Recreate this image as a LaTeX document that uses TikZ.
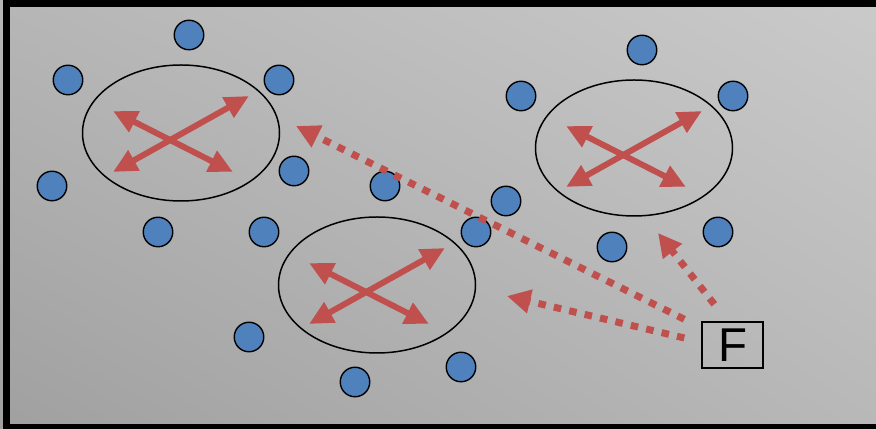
\documentclass[tikz,border=0pt]{standalone}
\usepackage{fontspec}
\setsansfont{Liberation Sans}
\usetikzlibrary{arrows.meta,calc,shadings}

\definecolor{bolla}{HTML}{4F81BD}
\definecolor{freccia}{HTML}{C0504D}
\definecolor{sfondoUL}{HTML}{B6B6B6}
\definecolor{sfondoUR}{HTML}{CACACA}
\definecolor{sfondoLL}{HTML}{A0A0A0}
\definecolor{sfondoLR}{HTML}{B8B8B8}

\begin{document}
\begin{tikzpicture}[
    nodo/.style={circle,draw=black,line width=0.8pt,fill=bolla,minimum size=0.59cm,inner sep=0pt},
    gruppo/.style={draw=black,line width=0.85pt},
    scambio/.style={draw=freccia,line width=3.4pt,{Triangle[length=0.48cm,width=0.44cm]}-{Triangle[length=0.48cm,width=0.44cm]}},
    attacco/.style={draw=freccia,line width=4pt,dash pattern=on 4.3pt off 4.7pt,-{Triangle[length=0.47cm,width=0.46cm]}},
    fonte/.style={draw=black,line width=0.8pt,minimum width=1.22cm,minimum height=0.92cm,inner sep=0pt,font=\sffamily\fontsize{27}{30}\selectfont}]

        %%%%%%% Sfondo %%%%%%%%
        \useasboundingbox (0,0) rectangle (17.52,8.58);
        \shade[upper left=sfondoUL,upper right=sfondoUR,lower left=sfondoLL,lower right=sfondoLR]
            (0,0) rectangle (17.52,8.58);
        \draw[line width=0.14cm] (0.13,0.03) rectangle (17.7,8.50);

        %%%%%%% Gruppi %%%%%%%%
        \coordinate (eA) at (3.62,5.92);
        \coordinate (eB) at (7.54,2.88);
        \coordinate (eC) at (12.68,5.62);

        \foreach \e in {eA,eB,eC}
            \draw[gruppo] (\e) ellipse [x radius=1.97,y radius=1.36];

        \foreach \e in {eA,eB,eC} {
            \draw[scambio] ([shift={(-1.36,0.44)}]\e) -- ([shift={(1.04,-0.78)}]\e);
            \draw[scambio] ([shift={(-1.36,-0.78)}]\e) -- ([shift={(1.36,0.74)}]\e);
        }

        %%%%%%% Nodi %%%%%%%%
        \foreach \p [count=\i] in {(3.78,7.88),(1.36,6.98),(5.58,6.98),(1.04,4.86),(5.88,5.16),
                                    (3.16,3.94),(5.28,3.94),(7.70,4.86),(9.52,3.94),(4.98,1.84),
                                    (7.10,0.94),(9.22,1.24),(12.84,7.58),(10.42,6.66),(14.66,6.66),
                                    (12.24,3.64),(14.36,3.94),(10.12,4.56)}
            \node[nodo] (c\i) at \p {};

        %%%%%%% Sorgente %%%%%%%%
        \node[fonte] (F) at (14.65,1.68) {F};

        \coordinate (f1) at ($(F.north west)+(-0.34,0.04)$);
        \coordinate (f2) at ($(F.west)+(-0.34,0.14)$);
        \coordinate (f3) at ($(F.north west)+(0.26,0.34)$);
        \coordinate (t1) at (5.92,6.06);
        \coordinate (t2) at (10.14,2.66);
        \coordinate (t3) at (13.16,3.92);

        \draw[attacco] (f1) -- (t1);
        \draw[attacco] (f2) -- (t2);
        \draw[attacco] (f3) -- (t3);
    \end{tikzpicture}
\end{document}
